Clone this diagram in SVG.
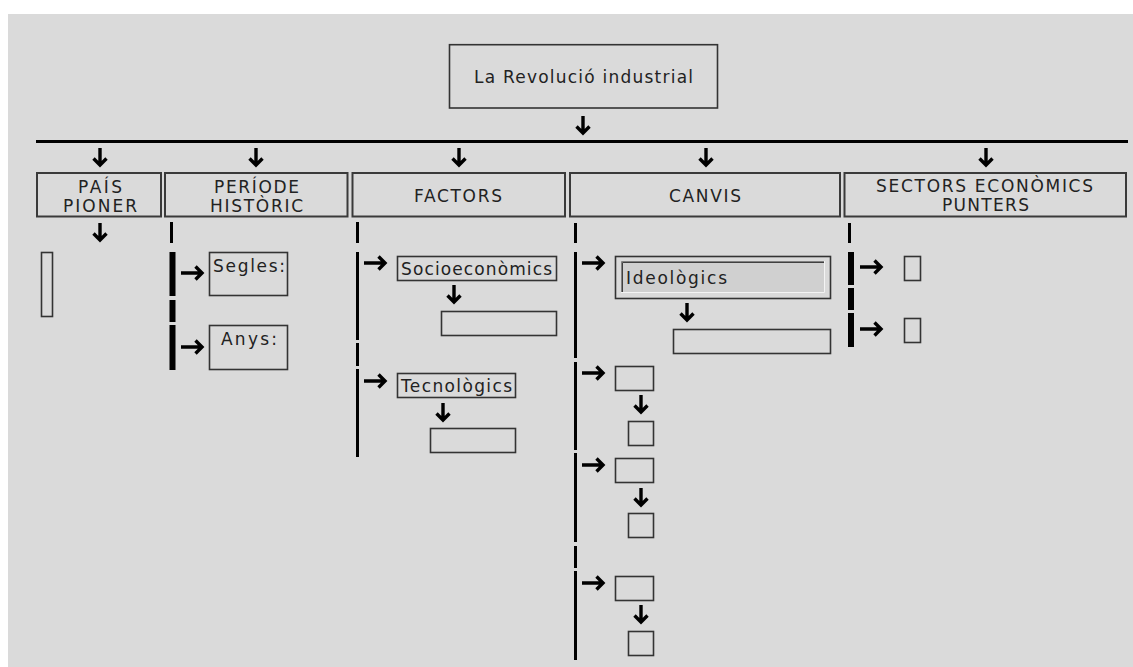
<svg xmlns="http://www.w3.org/2000/svg" xmlns:xlink="http://www.w3.org/1999/xlink" width="1133" height="667" viewBox="0 0 1133 667">
  <style>
    .box { fill: none; stroke: #333; stroke-width: 1.6; }
    .hbox { fill: none; stroke: #3a3a3a; stroke-width: 2; }
    .bar { fill: #000; }
    .arr { fill: none; stroke: #000; stroke-width: 3.4; stroke-linejoin: miter; stroke-linecap: butt; }
    text { font-family: "DejaVu Sans", Verdana, sans-serif; font-size: 17px; fill: #222; }
  </style>
  <defs>
    <path id="adown" class="arr" d="M0,0 V17 M-6.5,10.5 L0,17 L6.5,10.5"/>
    <path id="aright" class="arr" d="M0,0 H21 M14.5,-6.5 L21,0 L14.5,6.5"/>
  </defs>

  <!-- page -->
  <rect x="0" y="0" width="1133" height="667" fill="#fff"/>
  <rect x="8" y="14" width="1125" height="653" fill="#dadada"/>

  <!-- root -->
  <g id="root">
    <rect class="box" x="449.5" y="44.7" width="268" height="63.3"/>
    <text x="474" y="83" textLength="219" lengthAdjust="spacing">La Revolució industrial</text>
  </g>

  <!-- category headers -->
  <g id="pais">
    <rect class="hbox" x="37" y="173" width="124" height="43.5"/>
    <text x="78" y="193" textLength="44" lengthAdjust="spacing">PAÍS</text>
    <text x="63" y="212" textLength="74" lengthAdjust="spacing">PIONER</text>
    <rect class="box" x="41.5" y="252.5" width="11" height="64"/>
  </g>
  <g id="periode">
    <rect class="hbox" x="165" y="173" width="182.5" height="43.5"/>
    <text x="214" y="193" textLength="85" lengthAdjust="spacing">PERÍODE</text>
    <text x="210" y="212" textLength="93" lengthAdjust="spacing">HISTÒRIC</text>
  </g>
  <g id="factors">
    <rect class="hbox" x="352.5" y="173" width="212.5" height="43.5"/>
    <text x="414" y="202" textLength="88" lengthAdjust="spacing">FACTORS</text>
  </g>
  <g id="canvis">
    <rect class="hbox" x="570" y="173" width="270" height="43.5"/>
    <text x="669" y="202" textLength="72" lengthAdjust="spacing">CANVIS</text>
  </g>
  <g id="sectors">
    <rect class="hbox" x="844.5" y="173" width="281.5" height="43.5"/>
    <text x="876" y="192" textLength="217" lengthAdjust="spacing">SECTORS ECONÒMICS</text>
    <text x="942" y="211" textLength="87" lengthAdjust="spacing">PUNTERS</text>
  </g>

  <!-- period details -->
  <g id="segles">
    <rect class="box" x="209.5" y="252.5" width="78" height="43"/>
    <text x="213" y="272" textLength="72" lengthAdjust="spacing">Segles:</text>
  </g>
  <g id="anys">
    <rect class="box" x="209.5" y="325.5" width="78" height="44"/>
    <text x="221" y="345" textLength="56" lengthAdjust="spacing">Anys:</text>
  </g>

  <!-- factor details -->
  <g id="socioeconomics">
    <rect class="box" x="397.5" y="256.5" width="159" height="24"/>
    <text x="401" y="275" textLength="151" lengthAdjust="spacing">Socioeconòmics</text>
  </g>
  <g id="socioeconomics-value">
    <rect class="box" x="441.5" y="311.5" width="115" height="24"/>
  </g>
  <g id="tecnologics">
    <rect class="box" x="397.5" y="373.5" width="118" height="24"/>
    <text x="401" y="392" textLength="111" lengthAdjust="spacing">Tecnològics</text>
  </g>
  <g id="tecnologics-value">
    <rect class="box" x="430.5" y="428.5" width="85" height="24"/>
  </g>

  <!-- change details -->
  <g id="ideologics">
    <rect class="box" x="615.5" y="256.5" width="215" height="42"/>
    <rect x="621" y="261" width="204" height="32" fill="#d0d0d0"/>
    <path d="M621.5,293 V261.5 H825" fill="none" stroke="#808080" stroke-width="1"/>
    <path d="M622.5,292 V262.5 H824" fill="none" stroke="#404040" stroke-width="1"/>
    <path d="M621,292.5 H824.5 V261" fill="none" stroke="#f4f4f4" stroke-width="1"/>
    <text x="626" y="284" textLength="101" lengthAdjust="spacing">Ideològics</text>
  </g>
  <g id="ideologics-value">
    <rect class="box" x="673.5" y="329.5" width="157" height="24"/>
  </g>
  <g id="canvi-2">
    <rect class="box" x="615.5" y="366.5" width="38" height="24"/>
    <rect class="box" x="628.5" y="421.5" width="25" height="24"/>
  </g>
  <g id="canvi-3">
    <rect class="box" x="615.5" y="458.5" width="38" height="24"/>
    <rect class="box" x="628.5" y="513.5" width="25" height="24"/>
  </g>
  <g id="canvi-4">
    <rect class="box" x="615.5" y="576.5" width="38" height="24"/>
    <rect class="box" x="628.5" y="631.5" width="25" height="24"/>
  </g>

  <!-- sector details -->
  <g id="sector-1">
    <rect class="box" x="904.5" y="256.5" width="16" height="24"/>
  </g>
  <g id="sector-2">
    <rect class="box" x="904.5" y="318.5" width="16" height="24"/>
  </g>

  <!-- connectors -->
  <g id="connectors">
    <rect class="bar" x="36" y="140" width="1092" height="3"/>
    <use xlink:href="#adown" x="583" y="116"/>
    <use xlink:href="#adown" x="100" y="148"/>
    <use xlink:href="#adown" x="256" y="148"/>
    <use xlink:href="#adown" x="459" y="148"/>
    <use xlink:href="#adown" x="706" y="148"/>
    <use xlink:href="#adown" x="986" y="148"/>
    <use xlink:href="#adown" x="100" y="223"/>

    <!-- period bracket -->
    <rect class="bar" x="170" y="222" width="3" height="21"/>
    <rect class="bar" x="169.5" y="252" width="6" height="44"/>
    <rect class="bar" x="169.5" y="300" width="6" height="22"/>
    <rect class="bar" x="169.5" y="325" width="6" height="45"/>
    <use xlink:href="#aright" x="181" y="273"/>
    <use xlink:href="#aright" x="181" y="347"/>

    <!-- factors bracket -->
    <rect class="bar" x="356" y="222" width="3" height="21"/>
    <rect class="bar" x="356" y="252" width="3" height="88"/>
    <rect class="bar" x="356" y="343" width="3" height="23"/>
    <rect class="bar" x="356" y="369" width="3" height="88"/>
    <use xlink:href="#aright" x="364" y="263"/>
    <use xlink:href="#aright" x="364" y="381"/>
    <use xlink:href="#adown" x="454" y="285"/>
    <use xlink:href="#adown" x="443" y="403"/>

    <!-- changes bracket -->
    <rect class="bar" x="574" y="223" width="3" height="20"/>
    <rect class="bar" x="574" y="252" width="3" height="106"/>
    <rect class="bar" x="574" y="362" width="3" height="88"/>
    <rect class="bar" x="574" y="453" width="3" height="89"/>
    <rect class="bar" x="574" y="546" width="3" height="22"/>
    <rect class="bar" x="574" y="571" width="3" height="89"/>
    <use xlink:href="#aright" x="582" y="263"/>
    <use xlink:href="#aright" x="582" y="373"/>
    <use xlink:href="#aright" x="582" y="465"/>
    <use xlink:href="#aright" x="582" y="583"/>
    <use xlink:href="#adown" x="687" y="303"/>
    <use xlink:href="#adown" x="641" y="395"/>
    <use xlink:href="#adown" x="641" y="488"/>
    <use xlink:href="#adown" x="641" y="605"/>

    <!-- sectors bracket -->
    <rect class="bar" x="848" y="223" width="3" height="20"/>
    <rect class="bar" x="848" y="252" width="6" height="33"/>
    <rect class="bar" x="848" y="288" width="6" height="22"/>
    <rect class="bar" x="848" y="313" width="6" height="34"/>
    <use xlink:href="#aright" x="860" y="267"/>
    <use xlink:href="#aright" x="860" y="329"/>
  </g>
</svg>
